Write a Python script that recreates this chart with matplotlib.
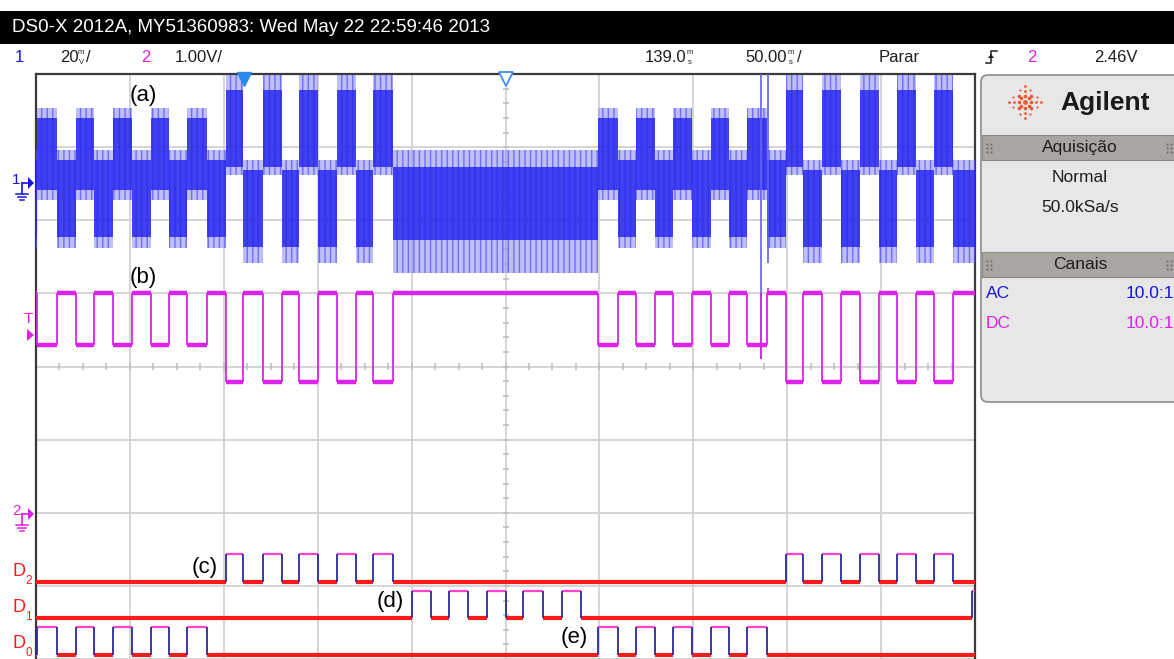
import math
import matplotlib
matplotlib.use("Agg")
import matplotlib.pyplot as plt
from matplotlib.patches import FancyBboxPatch, Rectangle, Polygon

# ------------------------------------------------------------------ data
T0, T1 = -111.0, 389.0          # screen time span, ms (50 ms/div, ref 139.0 ms)
T_REF = 139.0
MS_PER_DIV = 50.0

# digital channels: rising / falling edge times (ms)
d0_rise = [-110.5, -89.7, -70.0, -49.8, -30.6, 188.3, 208.5, 228.2, 248.5, 267.6]
d0_fall = [-99.8, -80.1, -59.9, -40.2, -20.0, 198.9, 218.6, 238.3, 258.0, 278.3]
d1_rise = [89.2, 108.9, 129.2, 148.3, 169.1, 387.4]
d1_fall = [99.4, 119.1, 139.3, 159.0, 179.2]
d2_rise = [-9.9, 9.9, 29.1, 49.3, 68.5, 288.4, 307.6, 327.8, 347.5, 367.2]
d2_fall = [-0.8, 20.0, 39.2, 59.4, 79.1, 297.4, 317.7, 337.9, 357.6, 377.3]

# channel 1 (20 mV/div): noise band per state, mV
ch1_state_names = ["base", "hi1", "lo1", "hi2", "lo2"]
ch1_core_lo = [-15.6, -1.9, -14.7, 4.4, -17.5]
ch1_core_hi = [4.4, 17.7, 6.3, 25.4, 3.5]
ch1_peak_lo = [-24.6, -4.6, -17.7, 2.2, -21.8]
ch1_peak_hi = [9.0, 20.5, 9.0, 29.5, 6.3]
ch1_spike_t = [275.0, 278.8]
ch1_spike_lo = [-48.3, -21.8]
ch1_spike_hi = [29.8, 29.8]

# channel 2 (1 V/div): levels, V
ch2_idle, ch2_d0, ch2_d2 = 3.03, 2.32, 1.81
ch2_spike_t = [275.0, 278.8]
ch2_spike_v = [2.12, 3.10]

# ------------------------------------------------------------------ layout
W, H = 1174, 659
PX_DIV_Y = 73.25
X_LEFT, X_RIGHT, Y_TOP = 36, 975, 74
CH1_OFF, CH1_SCALE = 2.512, 20.0
CH2_OFF = -2.020
LANES = {"D2": (-2.949, -2.567), "D1": (-3.440, -3.072), "D0": (-3.945, -3.563)}

BLUE = "#2424f0"
MAG = "#dc22ec"
RED = "#ff1a1a"
PINK = "#ff44cc"
NAVY = "#2a2a9a"
TXT = "#1e1e1e"
SANS = "Liberation Sans"

fig = plt.figure(figsize=(W / 100, H / 100), dpi=100)
fig.patch.set_facecolor("white")

ax = fig.add_axes([X_LEFT / W, 0, (X_RIGHT - X_LEFT) / W, (H - Y_TOP) / H], zorder=1)
ax.set_xlim(T0, T1)
ax.set_ylim(4 - (H - Y_TOP) / PX_DIV_Y, 4)
ax.set_xticks([T0 + MS_PER_DIV * k for k in range(11)])
ax.set_yticks(range(-4, 5))
ax.tick_params(length=0, labelbottom=False, labelleft=False)
ax.grid(True, color="#d2d2d2", lw=1.3)
ax.set_axisbelow(True)
for s in ["top", "left", "right"]:
    ax.spines[s].set_color("#3a3a3a")
    ax.spines[s].set_linewidth(1.6)
ax.spines["bottom"].set_visible(False)

# centre graticule ticks
xt = [T0 + 12.5 * k for k in range(1, 40)]
ax.vlines(xt, [-0.045] * len(xt), [0.045] * len(xt), color="#bcbcbc", lw=1.1, zorder=1)
yt = [-4 + 0.2 * k for k in range(1, 40)]
xr = 3.0 / 93.9 * MS_PER_DIV
ax.hlines(yt, [T_REF - xr] * len(yt), [T_REF + xr] * len(yt), color="#bcbcbc", lw=1.1, zorder=1)


def is_high(rises, falls, t):
    for i, r in enumerate(rises):
        f = falls[i] if i < len(falls) else T1 + 1
        if r <= t < f:
            return True
    return False


bounds = sorted(set([T0, T1] + d0_rise + d0_fall + d2_rise + d2_fall))
bounds = [b for b in bounds if T0 <= b <= T1]

# ---- channel 1 bands
st_idx = []
for a, b in zip(bounds[:-1], bounds[1:]):
    m = 0.5 * (a + b)
    if is_high(d0_rise, d0_fall, m):
        s = "hi1"
    elif is_high(d2_rise, d2_fall, m):
        s = "hi2"
    elif d2_rise[0] <= m <= d2_fall[4] or m >= d2_rise[5]:
        s = "lo2"
    elif d2_fall[4] < m < d0_rise[5]:
        s = "base"
    else:
        s = "lo1"
    st_idx.append(ch1_state_names.index(s))
st_idx.append(st_idx[-1])


def ch1(v):
    return CH1_OFF + v / CH1_SCALE


pk_lo = [ch1(ch1_peak_lo[i]) for i in st_idx]
pk_hi = [ch1(ch1_peak_hi[i]) for i in st_idx]
co_lo = [ch1(ch1_core_lo[i]) for i in st_idx]
co_hi = [ch1(ch1_core_hi[i]) for i in st_idx]
ax.fill_between(bounds, pk_lo, pk_hi, step="post", facecolor="#8a8af6", alpha=0.55, lw=0,
                zorder=3)
ax.fill_between(bounds, pk_lo, pk_hi, step="post", facecolor="none", edgecolor="#3a3af0",
                hatch="|||", lw=0, alpha=0.6, zorder=3)
ax.fill_between(bounds, co_lo, co_hi, step="post", color=BLUE, alpha=0.82, lw=0, zorder=3)
ax.vlines(ch1_spike_t, [ch1(v) for v in ch1_spike_lo], [ch1(v) for v in ch1_spike_hi],
          color="#6060f5", lw=1.2, zorder=3)

# ---- channel 2
lv = []
for a, b in zip(bounds[:-1], bounds[1:]):
    m = 0.5 * (a + b)
    if is_high(d0_rise, d0_fall, m):
        lv.append(ch2_d0)
    elif is_high(d2_rise, d2_fall, m):
        lv.append(ch2_d2)
    else:
        lv.append(ch2_idle)
ax.hlines([CH2_OFF + v for v in lv], bounds[:-1], bounds[1:], color=MAG, lw=3.2, zorder=4)
ax.vlines(bounds[1:-1], [CH2_OFF + min(p, q) for p, q in zip(lv[:-1], lv[1:])],
          [CH2_OFF + max(p, q) for p, q in zip(lv[:-1], lv[1:])], color=MAG, lw=1.3, zorder=4)
ax.vlines([ch2_spike_t[0]], [CH2_OFF + ch2_spike_v[0]], [CH2_OFF + ch2_idle], color=MAG, lw=1.2, zorder=4)
ax.vlines([ch2_spike_t[1]], [CH2_OFF + ch2_idle], [CH2_OFF + ch2_spike_v[1]], color=MAG, lw=1.2, zorder=4)


# ---- digital channels
def draw_digital(rises, falls, lane):
    lo, hi = LANES[lane]
    f_ext = list(falls) + [T1] * (len(rises) - len(falls))
    lo_s = [T0] + f_ext
    lo_e = list(rises) + [T1]
    lows = [(a, b) for a, b in zip(lo_s, lo_e) if b > a]
    ax.hlines([lo] * len(lows), [a for a, _ in lows], [b for _, b in lows], color=RED, lw=3.0, zorder=5)
    ax.hlines([hi] * len(rises), rises, f_ext, color=PINK, lw=1.6, zorder=5)
    edges = [e for e in list(rises) + list(falls) if T0 < e < T1]
    ax.vlines(edges, [lo] * len(edges), [hi] * len(edges), color=NAVY, lw=1.3, zorder=6)


draw_digital(d0_rise, d0_fall, "D0")
draw_digital(d1_rise, d1_fall, "D1")
draw_digital(d2_rise, d2_fall, "D2")

# trigger / reference markers at top
ax.plot([0.0], [4 - 5 / PX_DIV_Y], marker="v", ms=10, color="#2a8ae8", clip_on=False, zorder=7)
ax.plot([T_REF], [4 - 5 / PX_DIV_Y], marker="v", ms=10, mfc="white", mec="#3a8ff0", mew=1.3,
        clip_on=False, zorder=7)

ov = fig.add_axes([0, 0, 1, 1], zorder=3)
ov.patch.set_alpha(0)
ov.set_xlim(0, W)
ov.set_ylim(H, 0)
ov.axis("off")

for t, x, y in [("(a)", 130, 95), ("(b)", 130, 277), ("(c)", 192, 567), ("(d)", 377, 601), ("(e)", 561, 638)]:
    ov.text(x, y, t, fontsize=16, family=SANS, color="black", va="center", ha="left")

# top black bar
ov.add_patch(Rectangle((0, 11), W, 33, color="black", lw=0))
ov.text(12, 28, "DS0-X 2012A, MY51360983: Wed May 22 22:59:46 2013", color="white",
        fontsize=13.5, family=SANS, va="center", ha="left")

# second row
ry = 58
FS = 12
ov.text(15, ry, "1", color="#1414e0", fontsize=FS, family=SANS, va="center")
ov.text(60, ry, "20", color=TXT, fontsize=FS, family=SANS, va="center")
ov.text(78, ry - 5, "m", color=TXT, fontsize=5.5, family=SANS, va="center")
ov.text(78.5, ry + 4, "V", color=TXT, fontsize=5.5, family=SANS, va="center")
ov.text(86, ry, "/", color=TXT, fontsize=FS, family=SANS, va="center")
ov.text(141, ry, "2", color="#e020e8", fontsize=FS, family=SANS, va="center")
ov.text(175, ry, "1.00V/", color=TXT, fontsize=FS, family=SANS, va="center")
ov.text(686, ry, "139.0", color=TXT, fontsize=FS, family=SANS, va="center", ha="right")
ov.text(687, ry - 5, "m", color=TXT, fontsize=5.5, family=SANS, va="center")
ov.text(688, ry + 4, "s", color=TXT, fontsize=5.5, family=SANS, va="center")
ov.text(787, ry, "50.00", color=TXT, fontsize=FS, family=SANS, va="center", ha="right")
ov.text(788, ry - 5, "m", color=TXT, fontsize=5.5, family=SANS, va="center")
ov.text(789, ry + 4, "s", color=TXT, fontsize=5.5, family=SANS, va="center")
ov.text(797, ry, "/", color=TXT, fontsize=FS, family=SANS, va="center")
ov.text(879, ry, "Parar", color=TXT, fontsize=FS, family=SANS, va="center")
ov.plot([986, 991, 991, 997], [63, 63, 51, 51], color=TXT, lw=1.1)
ov.add_patch(Polygon([[988, 58], [994, 58], [991, 54]], closed=True, color=TXT, lw=0))
ov.text(1027, ry, "2", color="#e020e8", fontsize=FS, family=SANS, va="center")
ov.text(1094, ry, "2.46V", color=TXT, fontsize=FS, family=SANS, va="center")


def ground_marker(y, num, col):
    ov.text(12, y - 3, num, color=col, fontsize=11, family=SANS, va="center")
    ov.plot([22, 28], [y, y], color=col, lw=1.2)
    ov.plot([22, 22], [y, y + 11], color=col, lw=1.2)
    for k, hw in enumerate([6, 4, 2]):
        ov.plot([22 - hw, 22 + hw], [y + 11 + 3 * k, y + 11 + 3 * k], color=col, lw=1.1)
    ov.add_patch(Polygon([[28, y - 6], [34, y], [28, y + 6]], closed=True, color=col, lw=0))


ground_marker(183, "1", "#1414e0")
ground_marker(514, "2", "#e020e8")
ov.text(28, 319, "T", color="#e020e8", fontsize=11, family=SANS, va="center", ha="center")
ov.add_patch(Polygon([[27, 329], [34, 335], [27, 341]], closed=True, color="#e020e8", lw=0))

for lane, y in [("D2", 571), ("D1", 607), ("D0", 643)]:
    ov.text(12, y, "D", color=RED, fontsize=13, family=SANS, va="center")
    ov.text(25, y + 10, lane[1], color=RED, fontsize=8.5, family=SANS, va="center")

# right info panel
ov.add_patch(FancyBboxPatch((981, 75), 200, 327, boxstyle="round,pad=0,rounding_size=7",
                            fc="#e7e7e7", ec="#8c8c8c", lw=1.2))
cx, cy = 1025, 102
for k in range(8):
    ang = math.pi / 4 * k
    r_list = [6, 11, 16] if k % 2 == 0 else [5, 9]
    for r in r_list:
        ov.plot(cx + r * math.cos(ang), cy + r * math.sin(ang), "o", ms=2.6 if r < 10 else 2.0,
                color="#ea5a32", mew=0)
for k in range(8):
    ang = math.pi / 4 * k + math.pi / 8
    ov.plot(cx + 13 * math.cos(ang), cy + 13 * math.sin(ang), "o", ms=1.6, color="#ea5a32", mew=0)
ov.plot(cx, cy, "o", ms=3.5, color="#ea5a32", mew=0)
ov.text(1060, 103, "Agilent", fontsize=19, fontweight="bold", family=SANS,
        color="#1a1a1a", va="center")

for y0, title in [(135, "Aquisição"), (252, "Canais")]:
    ov.add_patch(Rectangle((981.5, y0), 193, 25, fc="#a9a6a2", ec="#8e8b87", lw=0.8))
    ov.text(1080, y0 + 12.5, title, fontsize=12.5, family=SANS, color=TXT, va="center", ha="center")
    for gx in (987, 1167):
        for dx in (0, 4):
            for dy in (-4, 0, 4):
                ov.plot(gx + dx, y0 + 12.5 + dy, "s", ms=1.3, color="#6b6864", mew=0)

ov.text(1080, 177, "Normal", fontsize=12.5, family=SANS, color=TXT, va="center", ha="center")
ov.text(1080, 207, "50.0kSa/s", fontsize=12.5, family=SANS, color=TXT, va="center", ha="center")
ov.text(986, 293, "AC", fontsize=12.5, family=SANS, color="#1414e0", va="center")
ov.text(1174, 293, "10.0:1", fontsize=12.5, family=SANS, color="#1414e0", va="center", ha="right")
ov.text(986, 323, "DC", fontsize=12.5, family=SANS, color="#e020e8", va="center")
ov.text(1174, 323, "10.0:1", fontsize=12.5, family=SANS, color="#e020e8", va="center", ha="right")

fig.savefig("out.png", dpi=100, facecolor="white")
